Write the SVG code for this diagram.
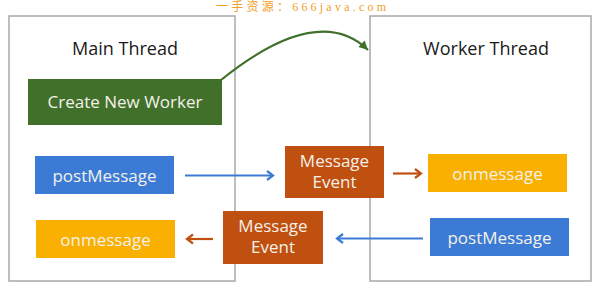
<svg xmlns="http://www.w3.org/2000/svg" width="598" height="288" viewBox="0 0 598 288">
  <style>
    .frame { fill: #ffffff; stroke: #a8a8a8; stroke-width: 1.5; }
    .title { font-family: "Open Sans", "Noto Sans", sans-serif; font-size: 18px; fill: #1a1a1a; text-anchor: middle; }
    .lbl { font-family: "Open Sans", "Noto Sans", sans-serif; font-size: 17px; fill: #f4f1ea; text-anchor: middle; }
    .green { fill: #40702a; }
    .blue { fill: #3b7bd6; }
    .amber { fill: #f9b000; }
    .rust { fill: #c0500f; }
    .conn { fill: none; stroke-width: 2.2; }
    .mark { font-family: "Liberation Serif", "Noto Sans CJK SC", serif; font-size: 12px; fill: #f0a028; }
  </style>
  <defs>
    <marker id="headBlue" markerWidth="12" markerHeight="12" refX="9" refY="6" orient="auto" markerUnits="userSpaceOnUse">
      <path d="M3,1.5 L9,6 L3,10.5" fill="none" stroke="#3b7bd6" stroke-width="2.2"/>
    </marker>
    <marker id="headRust" markerWidth="12" markerHeight="12" refX="9" refY="6" orient="auto" markerUnits="userSpaceOnUse">
      <path d="M3,1.5 L9,6 L3,10.5" fill="none" stroke="#c0500f" stroke-width="2.2"/>
    </marker>
    <marker id="headGreen" markerWidth="12" markerHeight="12" refX="10" refY="6" orient="auto" markerUnits="userSpaceOnUse">
      <path d="M1,1.5 L10,6 L1,10.5 Z" fill="#40702a"/>
    </marker>
  </defs>

  <rect width="598" height="288" fill="#ffffff"/>

  <!-- site tag along the top edge -->
  <text class="mark" x="216" y="11" textLength="170" lengthAdjust="spacing">一手资源：666java.com</text>

  <!-- thread frames -->
  <g id="main-thread">
    <rect class="frame" x="9" y="16" width="226" height="265"/>
    <text class="title" x="125" y="55">Main Thread</text>
  </g>
  <g id="worker-thread">
    <rect class="frame" x="370" y="16" width="221" height="265"/>
    <text class="title" x="486" y="55">Worker Thread</text>
  </g>

  <!-- connectors -->
  <g id="connectors">
    <path class="conn" d="M221,80 Q318,2 368,50" stroke="#40702a" marker-end="url(#headGreen)"/>
    <line class="conn" x1="185" y1="175.5" x2="273" y2="175.5" stroke="#3b7bd6" marker-end="url(#headBlue)"/>
    <line class="conn" x1="393" y1="173.5" x2="421" y2="173.5" stroke="#c0500f" marker-end="url(#headRust)"/>
    <line class="conn" x1="423" y1="238.5" x2="337" y2="238.5" stroke="#3b7bd6" marker-end="url(#headBlue)"/>
    <line class="conn" x1="213" y1="239" x2="187" y2="239" stroke="#c0500f" marker-end="url(#headRust)"/>
  </g>

  <!-- main thread nodes -->
  <g id="create-worker">
    <rect class="green" x="28" y="79" width="194" height="46"/>
    <text class="lbl" x="125" y="108">Create New Worker</text>
  </g>
  <g id="main-post">
    <rect class="blue" x="35" y="156" width="139" height="38"/>
    <text class="lbl" x="104.5" y="182">postMessage</text>
  </g>
  <g id="main-on">
    <rect class="amber" x="36" y="220" width="139" height="38"/>
    <text class="lbl" x="105.5" y="246">onmessage</text>
  </g>

  <!-- message events -->
  <g id="event-to-worker">
    <rect class="rust" x="285" y="146" width="99" height="52"/>
    <text class="lbl" x="334.5" y="167">Message</text>
    <text class="lbl" x="334.5" y="188">Event</text>
  </g>
  <g id="event-to-main">
    <rect class="rust" x="223" y="211" width="100" height="53"/>
    <text class="lbl" x="273" y="232">Message</text>
    <text class="lbl" x="273" y="253">Event</text>
  </g>

  <!-- worker thread nodes -->
  <g id="worker-on">
    <rect class="amber" x="428" y="154" width="139" height="38"/>
    <text class="lbl" x="497.5" y="180">onmessage</text>
  </g>
  <g id="worker-post">
    <rect class="blue" x="430" y="218" width="139" height="38"/>
    <text class="lbl" x="499.5" y="244">postMessage</text>
  </g>
</svg>
